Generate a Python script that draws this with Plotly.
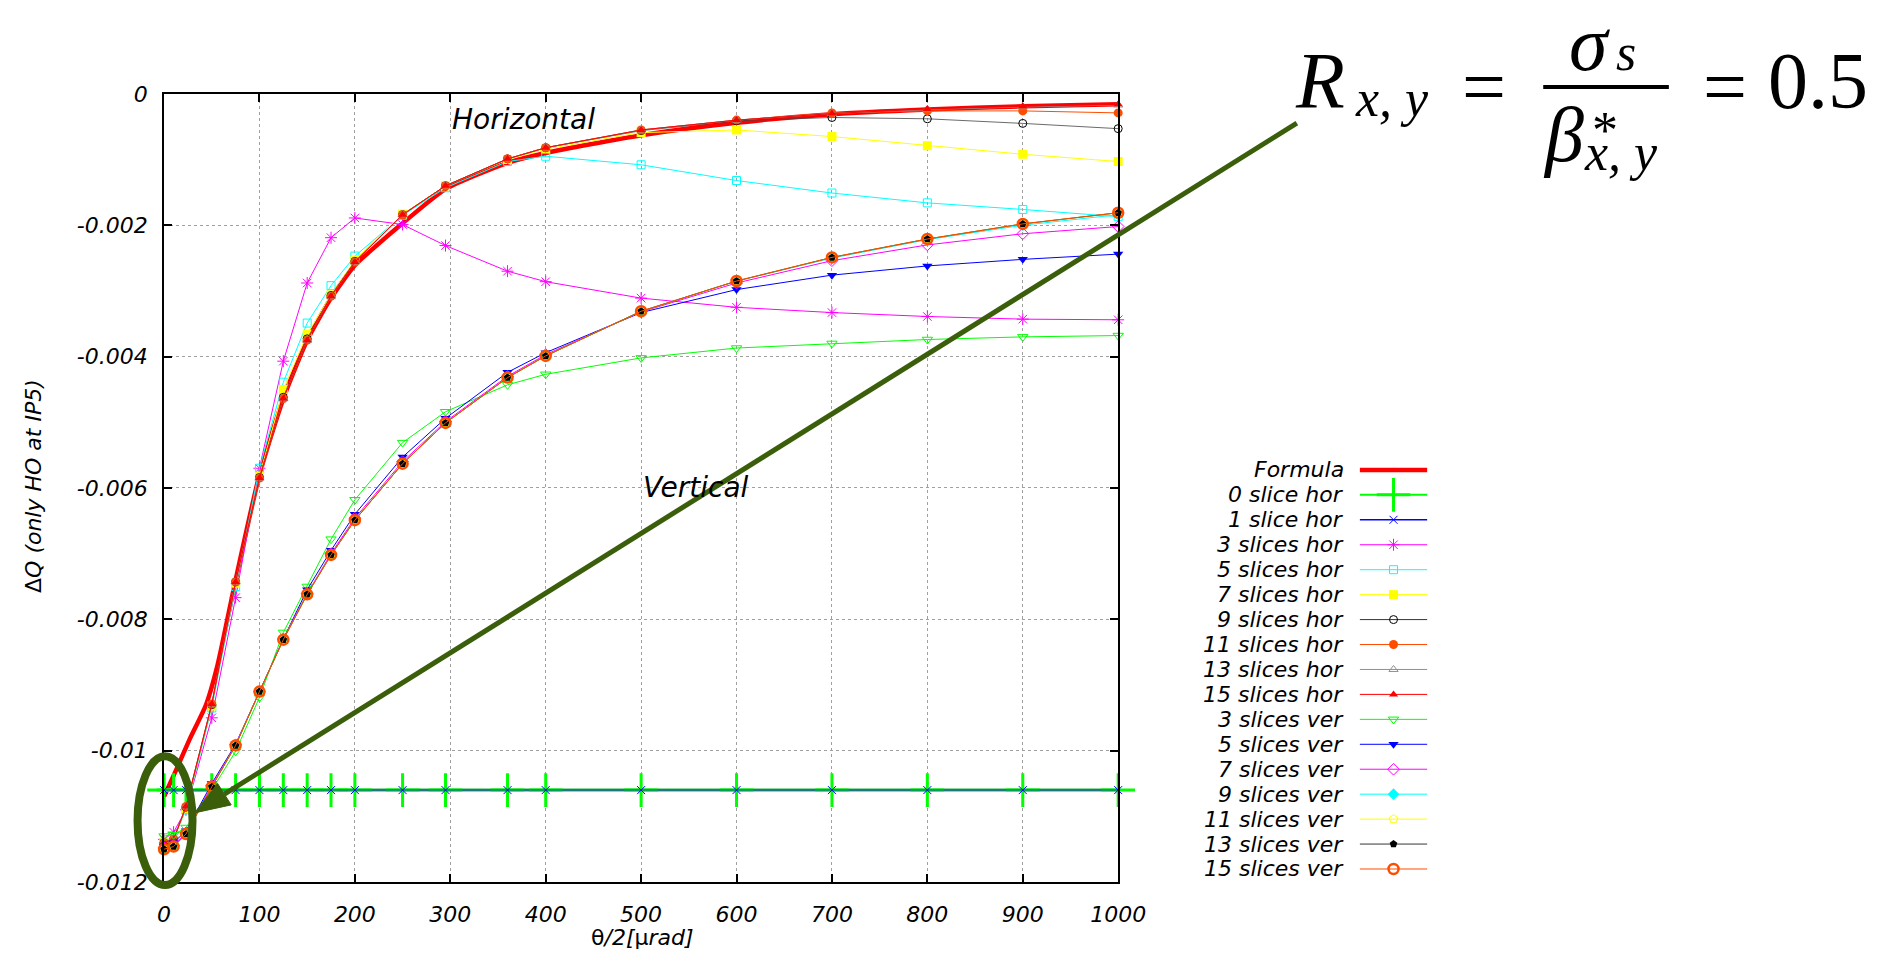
import plotly.graph_objects as go

W, H = 1903, 973


def px(x):
    return x / W


def py(y):
    return 1 - y / H


# ---------------- data ----------------
theta = [0, 10, 23, 50, 75, 100, 125, 150, 175, 200, 250, 295, 360, 400, 500, 600, 700, 800, 900, 1000]

formula_theta = [0, 14, 27, 44, 56, 75, 100, 125, 150, 175, 200, 225, 250, 295, 360, 400, 500, 600, 700, 800, 900, 1000]
formula_dq = [-0.0107, -0.01025, -0.00982, -0.0093, -0.0087, -0.0074, -0.0058, -0.00464, -0.00375,
              -0.00311, -0.00261, -0.00228, -0.00197, -0.00145, -0.00105, -0.0009, -0.00063, -0.00044, -0.00031,
              -0.00024, -0.00019, -0.00016]

dq_0_hor = [-0.0106] * 20
dq_1_hor = [-0.0106] * 20
dq_3_hor = [-0.01135, -0.01124, -0.0109, -0.0095, -0.00767, -0.0057, -0.00407, -0.00288, -0.00219, -0.00189,
            -0.00199, -0.00231, -0.0027, -0.00286, -0.00311, -0.00325, -0.00333, -0.00339, -0.00343, -0.00344]
dq_5_hor = [-0.0114, -0.01135, -0.0109, -0.00935, -0.0075, -0.0057, -0.00439, -0.00349, -0.00292, -0.00247,
            -0.00185, -0.00143, -0.00103, -0.00095, -0.00108, -0.00132, -0.00151, -0.00166, -0.00176, -0.00187]
dq_7_hor = [-0.0114, -0.01135, -0.01088, -0.00932, -0.00745, -0.00582, -0.0045, -0.00366, -0.00306, -0.00253,
            -0.00183, -0.0014, -0.001, -0.00084, -0.00059, -0.00055, -0.00065, -0.00079, -0.00092, -0.00103]
dq_9_hor = [-0.0114, -0.01135, -0.01086, -0.0093, -0.00743, -0.00584, -0.00462, -0.00373, -0.00307, -0.00255,
            -0.00184, -0.0014, -0.00099, -0.00082, -0.00056, -0.00041, -0.00036, -0.00038, -0.00045, -0.00053]
dq_11_hor = [-0.0114, -0.01135, -0.01085, -0.00929, -0.00743, -0.00585, -0.00464, -0.00375, -0.00308, -0.00256,
             -0.00184, -0.0014, -0.00099, -0.00082, -0.00055, -0.0004, -0.00029, -0.00026, -0.00026, -0.00029]
dq_13_hor = [-0.0114, -0.01135, -0.01085, -0.00929, -0.00743, -0.00585, -0.00464, -0.00375, -0.00308, -0.00256,
             -0.00184, -0.0014, -0.00099, -0.00082, -0.00055, -0.0004, -0.0003, -0.00024, -0.0002, -0.00017]
dq_15_hor = [-0.0114, -0.01135, -0.01085, -0.00929, -0.00743, -0.00585, -0.00464, -0.00375, -0.00308, -0.00256,
             -0.00184, -0.0014, -0.00099, -0.00082, -0.00055, -0.0004, -0.0003, -0.00023, -0.00019, -0.00016]
dq_3_ver = [-0.0113, -0.01128, -0.01117, -0.0106, -0.01001, -0.00919, -0.0082, -0.0075, -0.00678, -0.00618,
            -0.00531, -0.00484, -0.00443, -0.00427, -0.00402, -0.00387, -0.0038, -0.00374, -0.0037, -0.00368]
dq_5_ver = [-0.01145, -0.0114, -0.01122, -0.0105, -0.0099, -0.0091, -0.0083, -0.00755, -0.00695, -0.0064,
            -0.00553, -0.00494, -0.00424, -0.00394, -0.00333, -0.00298, -0.00276, -0.00262, -0.00252, -0.00244]
dq_7_ver = [-0.01148, -0.01144, -0.01125, -0.01053, -0.00991, -0.0091, -0.0083, -0.00761, -0.007, -0.00646,
            -0.0056, -0.00499, -0.0043, -0.00397, -0.00332, -0.00288, -0.00254, -0.0023, -0.00213, -0.00202]
dq_9_ver = [-0.0115, -0.01146, -0.01127, -0.01055, -0.00992, -0.0091, -0.00831, -0.00762, -0.00702, -0.00649,
            -0.00563, -0.00501, -0.00432, -0.00399, -0.00331, -0.00285, -0.0025, -0.00222, -0.002, -0.00184]
dq_11_ver = [-0.0115, -0.01146, -0.01127, -0.01055, -0.00992, -0.0091, -0.00831, -0.00762, -0.00702, -0.00649,
             -0.00563, -0.00501, -0.00432, -0.00399, -0.00331, -0.00285, -0.00249, -0.00221, -0.00198, -0.00181]
dq_13_ver = [-0.0115, -0.01146, -0.01127, -0.01055, -0.00992, -0.0091, -0.00831, -0.00762, -0.00702, -0.00649,
             -0.00563, -0.00501, -0.00432, -0.00399, -0.00331, -0.00285, -0.00249, -0.00221, -0.00198, -0.00181]
dq_15_ver = [-0.0115, -0.01146, -0.01127, -0.01055, -0.00992, -0.0091, -0.00831, -0.00762, -0.00702, -0.00649,
             -0.00563, -0.00501, -0.00432, -0.00399, -0.00331, -0.00285, -0.00249, -0.00221, -0.00198, -0.00181]

x_ticks = [0, 100, 200, 300, 400, 500, 600, 700, 800, 900, 1000]
y_ticks = [0, -0.002, -0.004, -0.006, -0.008, -0.01, -0.012]
y_tick_labels = ["0", "-0.002", "-0.004", "-0.006", "-0.008", "-0.01", "-0.012"]

# ---------------- styles ----------------
RED, GREEN, BLUE, MAG, CYAN = "#ff0000", "#00ff00", "#0000ff", "#ff00ff", "#00ffff"
YEL, BLK, ORA, GRY = "#ffff00", "#000000", "#ff4d00", "#909090"

# name, values, color, symbol, size, marker line width, line width, line colour
series = [
    ("0 slice hor", dq_0_hor, GREEN, "cross-thin", 24, 3, 3, "#22b24a"),
    ("1 slice hor", dq_1_hor, BLUE, "x-thin", 8, 1, 1.5, "rgba(20,80,160,0.75)"),
    ("3 slices hor", dq_3_hor, MAG, "asterisk", 10, 1, 1, MAG),
    ("5 slices hor", dq_5_hor, CYAN, "square-open", 8, 1, 1, CYAN),
    ("7 slices hor", dq_7_hor, YEL, "square", 9, 0, 1, YEL),
    ("9 slices hor", dq_9_hor, BLK, "circle-open", 8, 1, 0.8, "#444444"),
    ("11 slices hor", dq_11_hor, ORA, "circle", 9, 0, 1, ORA),
    ("13 slices hor", dq_13_hor, GRY, "triangle-up-open", 8, 1, 1, GRY),
    ("15 slices hor", dq_15_hor, RED, "triangle-up", 8, 0, 1, RED),
    ("3 slices ver", dq_3_ver, GREEN, "triangle-down-open", 9, 1, 1, GREEN),
    ("5 slices ver", dq_5_ver, BLUE, "triangle-down", 9, 0, 1, BLUE),
    ("7 slices ver", dq_7_ver, MAG, "diamond-open", 9, 1, 1, MAG),
    ("9 slices ver", dq_9_ver, CYAN, "diamond", 9, 0, 1, CYAN),
    ("11 slices ver", dq_11_ver, YEL, "pentagon-open", 9, 1, 1, YEL),
    ("13 slices ver", dq_13_ver, BLK, "pentagon", 8, 0, 0.8, "#333333"),
    ("15 slices ver", dq_15_ver, ORA, "circle-open", 10, 2.5, 1, ORA),
]

FONT = "DejaVu Sans"
fig = go.Figure()

# Formula curve
fig.add_trace(go.Scatter(x=formula_theta, y=formula_dq, mode="lines",
                         line=dict(color=RED, width=4.5, shape="spline", smoothing=0.6),
                         xaxis="x", yaxis="y", hoverinfo="skip", cliponaxis=True))

for name, vals, col, sym, sz, mlw, lw, lcol in series:
    fig.add_trace(go.Scatter(
        x=theta, y=vals, mode="lines+markers", name=name,
        line=dict(color=lcol, width=lw),
        marker=dict(symbol=sym, size=sz, color=col, line=dict(color=col, width=mlw)),
        cliponaxis=False, xaxis="x", yaxis="y"))

# ---------------- custom legend ----------------
legend_names = ["Formula"] + [s[0] for s in series]
ROW0, ROWSTEP = 470, 25.6
LEG_TOP, LEG_BOT = 455, 895
annotations = []
for i, nm in enumerate(legend_names):
    yrow = ROW0 + ROWSTEP * i
    annotations.append(dict(x=px(1364), y=py(yrow), xref="paper", yref="paper", text=nm,
                            showarrow=False, xanchor="right", yanchor="middle",
                            font=dict(family=FONT, size=22, style="italic", color="black")))
    if i == 0:
        fig.add_trace(go.Scatter(x=[0, 1], y=[yrow, yrow], mode="lines",
                                 line=dict(color=RED, width=4.5), xaxis="x2", yaxis="y2"))
    else:
        name, vals, col, sym, sz, mlw, lw, lcol = series[i - 1]
        fig.add_trace(go.Scatter(x=[0, 0.5, 1], y=[yrow] * 3, mode="lines+markers",
                                 line=dict(color=col, width=2 if i == 1 else lw),
                                 marker=dict(symbol=sym, size=sz, color=col, opacity=[0, 1, 0],
                                             line=dict(color=col, width=mlw)),
                                 cliponaxis=False, xaxis="x2", yaxis="y2"))

# ---------------- text annotations ----------------
annotations += [
    dict(x=px(27), y=py(487), xref="paper", yref="paper", text="Δ<i>Q (only HO at IP5)</i>",
         textangle=-90, showarrow=False, xanchor="center", yanchor="middle",
         font=dict(family=FONT, size=22, color="black")),
    dict(x=px(647), y=py(950), xref="paper", yref="paper", text="θ<i>/2[</i>μ<i>rad]</i>",
         showarrow=False, xanchor="center", yanchor="middle",
         font=dict(family=FONT, size=22, color="black")),
    dict(x=px(526), y=py(110), xref="paper", yref="paper", text="Horizontal",
         showarrow=False, xanchor="center", yanchor="middle",
         font=dict(family=FONT, size=28, style="italic", color="black")),
    dict(x=px(702), y=py(488), xref="paper", yref="paper", text="Vertical",
         showarrow=False, xanchor="center", yanchor="middle",
         font=dict(family=FONT, size=28, style="italic", color="black")),
]

SERIF = "Liberation Serif"
math_parts = [
    # text, left x, center y, size, italic
    ("R", 1311, 71, 80, True),
    ("x, y", 1372, 89, 52, True),
    ("=", 1481, 76, 78, False),
    ("σ", 1590, 32, 78, True),
    ("s", 1638, 42, 52, True),
    ("β", 1564, 126, 78, True),
    ("*", 1614, 122, 52, False),
    ("x, y", 1606, 144, 52, True),
    ("=", 1727, 76, 78, False),
    ("0.5", 1793, 71, 80, False),
]
for t, xl, yc, sz, it in math_parts:
    annotations.append(dict(x=px(xl), y=py(yc), xref="paper", yref="paper", text=t,
                            showarrow=False, xanchor="left", yanchor="middle", borderpad=0,
                            font=dict(family=SERIF, size=sz, style="italic" if it else "normal",
                                      color="black")))

# ---------------- shapes (fraction bar, ellipse, arrow) ----------------
OLIVE = "#3b5e0b"
tip = (191, 822)
tail = (1314, 114)
dx, dy = tail[0] - tip[0], tail[1] - tip[1]
L = (dx * dx + dy * dy) ** 0.5
ux, uy = dx / L, dy / L
hl, hw = 36, 13
bx, by = tip[0] + ux * hl, tip[1] + uy * hl
c1 = (bx + (-uy) * hw, by + ux * hw)
c2 = (bx - (-uy) * hw, by - ux * hw)

shapes = [
    dict(type="line", xref="paper", yref="paper", x0=px(1565), x1=px(1693), y0=py(77), y1=py(77),
         line=dict(color="black", width=4)),
    dict(type="circle", xref="paper", yref="paper", x0=px(133), x1=px(189), y0=py(896), y1=py(764),
         line=dict(color=OLIVE, width=8)),
    dict(type="line", xref="paper", yref="paper", x0=px(tail[0]), y0=py(tail[1]),
         x1=px(bx), y1=py(by), line=dict(color=OLIVE, width=5)),
    dict(type="path", xref="paper", yref="paper",
         path=f"M {px(tip[0])} {py(tip[1])} L {px(c1[0])} {py(c1[1])} L {px(c2[0])} {py(c2[1])} Z",
         fillcolor=OLIVE, line=dict(color=OLIVE, width=1)),
]

axis_common = dict(showline=True, linecolor="black", linewidth=2, mirror="ticks",
                   ticks="inside", ticklen=8, tickwidth=1.5, tickcolor="black",
                   showgrid=True, gridcolor="#a0a0a0", griddash="dot", gridwidth=1,
                   zeroline=False,
                   tickfont=dict(family=FONT, size=22, style="italic", color="black"))

fig.update_layout(
    width=W, height=H,
    margin=dict(l=0, r=0, t=0, b=0),
    paper_bgcolor="white", plot_bgcolor="white",
    showlegend=False,
    xaxis=dict(domain=[px(160), px(1132)], range=[0, 1000], tickvals=x_ticks,
               ticklabelstandoff=12, anchor="y", **axis_common),
    yaxis=dict(domain=[py(893), py(84)], range=[-0.012, 0], tickvals=y_ticks,
               ticktext=y_tick_labels, ticklabelstandoff=10, anchor="x", **axis_common),
    xaxis2=dict(domain=[px(1378), px(1447)], range=[0, 1], visible=False, anchor="y2"),
    yaxis2=dict(domain=[py(LEG_BOT), py(LEG_TOP)], range=[LEG_BOT, LEG_TOP], visible=False, anchor="x2"),
    annotations=annotations,
    shapes=shapes,
)

fig.write_html("out.html")
